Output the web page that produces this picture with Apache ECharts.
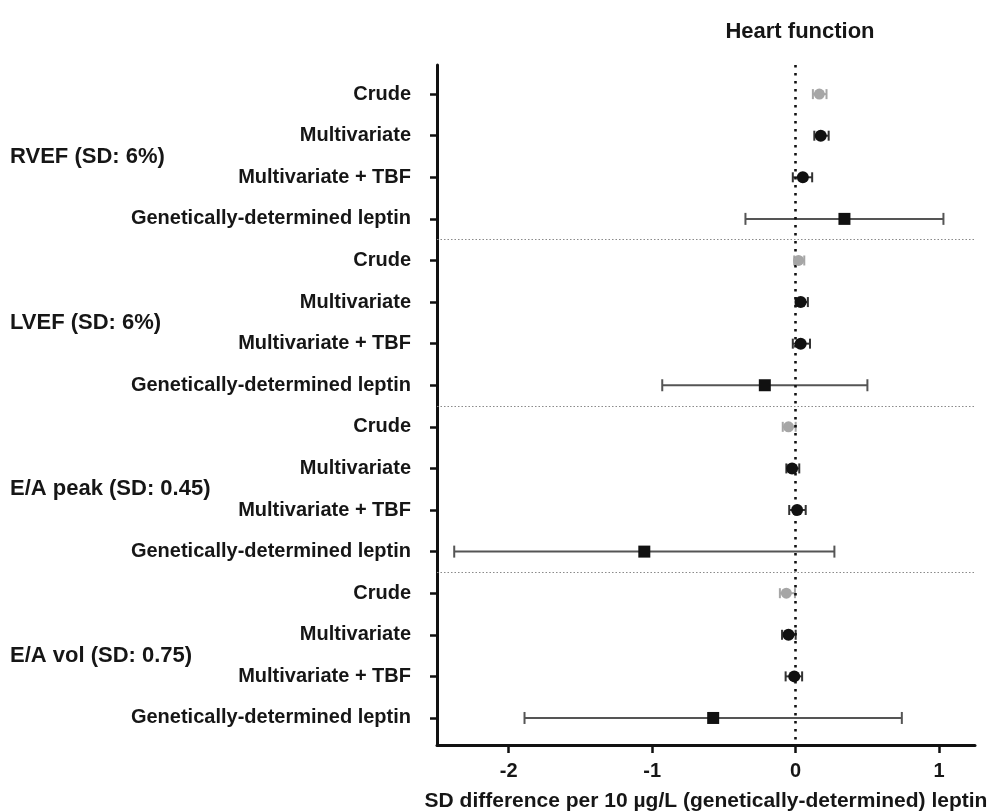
<!DOCTYPE html>
<html><head><meta charset="utf-8">
<script src="https://cdn.jsdelivr.net/npm/echarts@6/dist/echarts.min.js"></script>
<style>html,body{margin:0;padding:0;background:#fff}#c{width:1000px;height:812px}</style>
</head><body><div id="c"></div>
<script>
const chartTitle = 'Heart function';
const xAxisName = 'SD difference per 10 µg/L (genetically-determined) leptin';
const groups = ['RVEF (SD: 6%)', 'LVEF (SD: 6%)', 'E/A peak (SD: 0.45)', 'E/A vol (SD: 0.75)'];
const models = ['Crude', 'Multivariate', 'Multivariate + TBF', 'Genetically-determined leptin'];
// one row per group, columns follow `models`
const rvefEst = [0.165, 0.175, 0.05, 0.34];
const rvefLow = [0.12, 0.13, -0.02, -0.35];
const rvefHigh = [0.215, 0.23, 0.115, 1.03];
const lvefEst = [0.02, 0.035, 0.035, -0.215];
const lvefLow = [-0.01, 0.0, -0.02, -0.93];
const lvefHigh = [0.06, 0.085, 0.10, 0.50];
const eaPeakEst = [-0.05, -0.025, 0.01, -1.055];
const eaPeakLow = [-0.09, -0.065, -0.045, -2.38];
const eaPeakHigh = [0.0, 0.025, 0.07, 0.27];
const eaVolEst = [-0.065, -0.05, -0.01, -0.575];
const eaVolLow = [-0.11, -0.095, -0.07, -1.89];
const eaVolHigh = [-0.005, 0.0, 0.045, 0.74];
const xTicks = [-2, -1, 0, 1];

const estimates = [rvefEst, lvefEst, eaPeakEst, eaVolEst];
const lows = [rvefLow, lvefLow, eaPeakLow, eaVolLow];
const highs = [rvefHigh, lvefHigh, eaPeakHigh, eaVolHigh];

const FONT = '"Liberation Sans", Arial, Helvetica, sans-serif';
const INK = '#161616';

const rows = [];
const errData = [], crudeData = [], adjData = [], genData = [];
groups.forEach((g, gi) => {
  models.forEach((m, mi) => {
    const r = gi * models.length + mi;
    rows.push(r);
    errData.push([lows[gi][mi], highs[gi][mi], r, mi]);
    const pt = [estimates[gi][mi], r];
    if (mi === 0) crudeData.push(pt);
    else if (mi === 3) genData.push(pt);
    else adjData.push(pt);
  });
});
const groupCenters = groups.map((g, gi) => gi * models.length + (models.length - 1) / 2);
const separators = groups.slice(1).map((g, gi) => (gi + 1) * models.length - 0.5);

const chart = echarts.init(document.getElementById('c'), null, {renderer: 'canvas'});
const yMin = -0.7, yMax = rows.length - 1 + 0.65;

chart.setOption({
  animation: false,
  backgroundColor: '#fff',
  title: {
    text: chartTitle, left: 795, top: 16, textAlign: 'center',
    textStyle: {fontFamily: FONT, fontSize: 22, fontWeight: 'bold', color: INK}
  },
  grid: {left: 437, right: 25, top: 65, bottom: 67, containLabel: false, outerBoundsMode: 'none'},
  xAxis: {
    type: 'value', min: -2.5, max: 1.25,
    axisLine: {show: true, onZero: false, lineStyle: {color: '#111', width: 3}},
    axisTick: {show: true, customValues: xTicks, length: 8, lineStyle: {color: '#111', width: 2.5}},
    axisLabel: {customValues: xTicks, formatter: v => String(v), margin: 16,
      fontFamily: FONT, fontSize: 20, fontWeight: 'bold', color: INK},
    splitLine: {show: false},
    name: xAxisName, nameLocation: 'middle', nameGap: 46,
    nameTextStyle: {fontFamily: FONT, fontSize: 21, fontWeight: 'bold', color: INK}
  },
  yAxis: [{
    type: 'value', min: yMin, max: yMax, inverse: true, position: 'left',
    axisLine: {show: true, onZero: false, lineStyle: {color: '#111', width: 3}},
    axisTick: {show: true, customValues: rows, length: 7, lineStyle: {color: '#111', width: 2.5}},
    axisLabel: {customValues: rows, formatter: v => models[Math.round(v) % models.length], margin: 26,
      fontFamily: FONT, fontSize: 20, fontWeight: 'bold', color: INK, padding: [2, 0, 0, 0]},
    splitLine: {show: false}
  }, {
    type: 'value', min: yMin, max: yMax, inverse: true, position: 'left', offset: 0,
    axisLine: {show: false}, axisTick: {show: false},
    axisLabel: {customValues: groupCenters,
      formatter: v => groups[Math.round((v - (models.length - 1) / 2) / models.length)],
      align: 'left', margin: 427,
      fontFamily: FONT, fontSize: 22, fontWeight: 'bold', color: INK, padding: [2, 0, 0, 0]},
    splitLine: {show: false}
  }],
  series: [{
    type: 'custom', name: 'CI', z: 2,
    data: errData,
    renderItem: (params, api) => {
      const lo = api.coord([api.value(0), api.value(2)]);
      const hi = api.coord([api.value(1), api.value(2)]);
      const kind = api.value(3);
      const color = kind === 0 ? '#a6a6a6' : (kind === 3 ? '#555' : '#333');
      const h = kind === 3 ? 6 : 5;
      const style = {stroke: color, lineWidth: 2};
      return {type: 'group', children: [
        {type: 'line', shape: {x1: lo[0], y1: lo[1], x2: hi[0], y2: hi[1]}, style},
        {type: 'line', shape: {x1: lo[0], y1: lo[1] - h, x2: lo[0], y2: lo[1] + h}, style},
        {type: 'line', shape: {x1: hi[0], y1: hi[1] - h, x2: hi[0], y2: hi[1] + h}, style}
      ]};
    },
    markLine: {
      silent: true, symbol: 'none', label: {show: false}, animation: false,
      data: [
        {xAxis: 0, lineStyle: {color: '#111', width: 2.6, type: [2.5, 5.5]}}
      ].concat(separators.map(s => ({yAxis: s, lineStyle: {color: '#8a8a8a', width: 1.2, type: [1.5, 2]}})))
    }
  }, {
    type: 'scatter', name: 'Crude', z: 5, data: crudeData,
    symbol: 'circle', symbolSize: 11, itemStyle: {color: '#a6a6a6', opacity: 1}
  }, {
    type: 'scatter', name: 'Adjusted', z: 5, data: adjData,
    symbol: 'circle', symbolSize: 12, itemStyle: {color: '#111', opacity: 1}
  }, {
    type: 'scatter', name: 'Genetic', z: 5, data: genData,
    symbol: 'rect', symbolSize: 12, itemStyle: {color: '#111', opacity: 1}
  }]
});
</script>
</body></html>
